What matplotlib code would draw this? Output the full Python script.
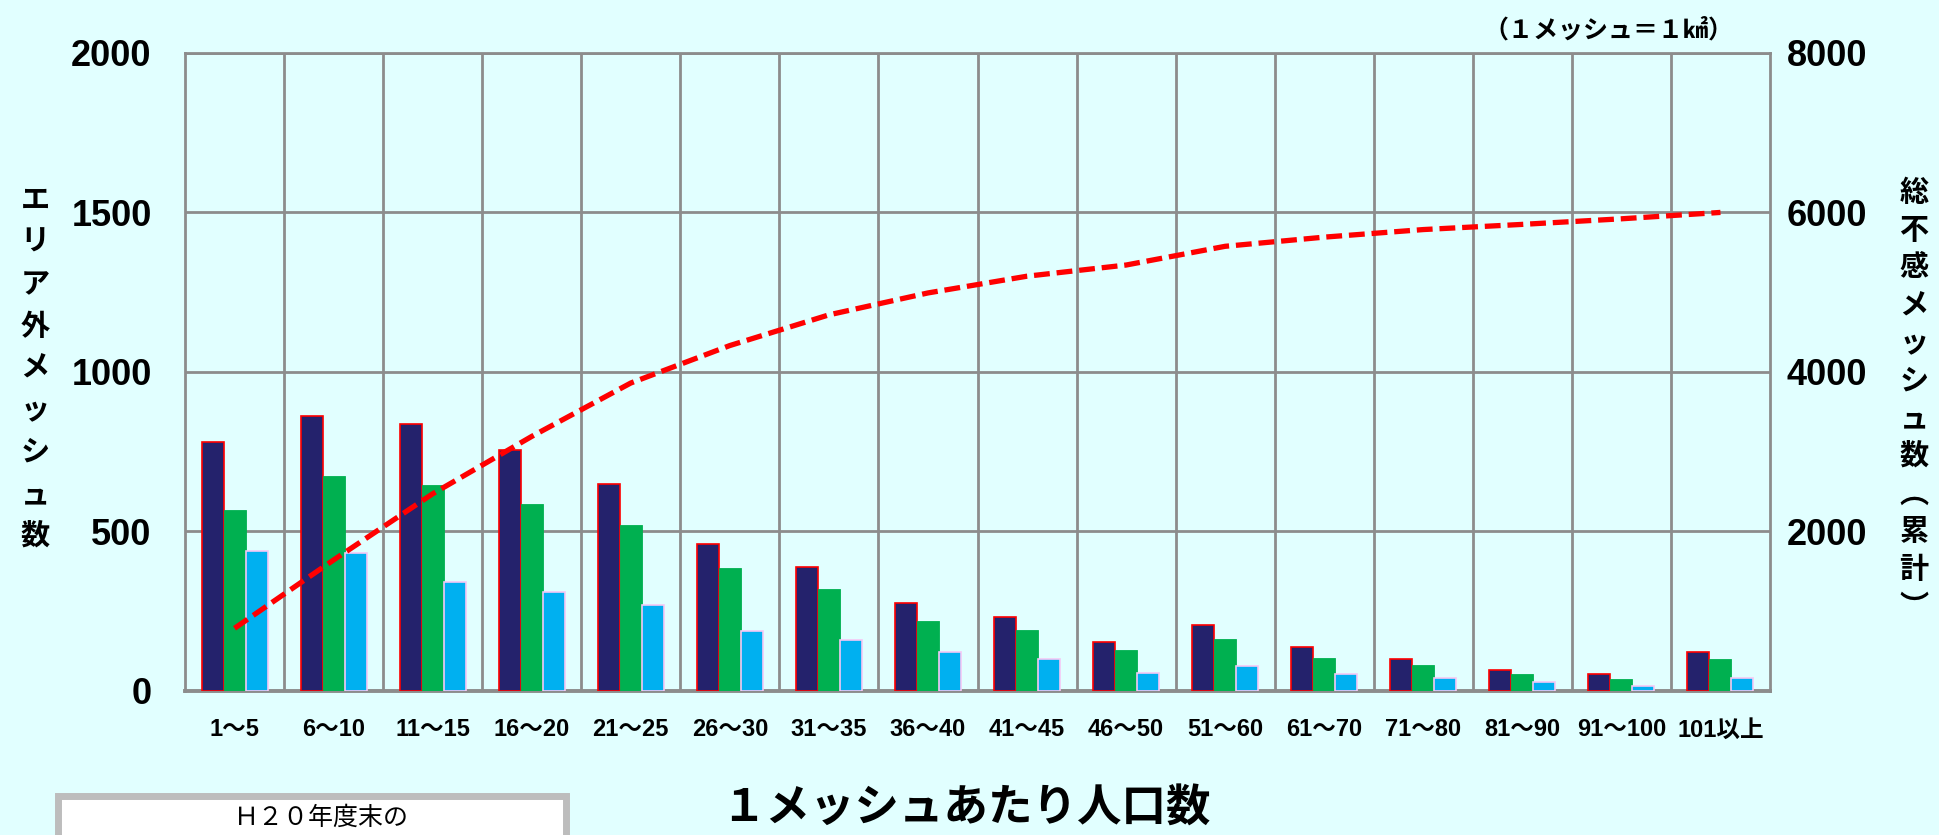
import numpy as np
import matplotlib.pyplot as plt
from matplotlib.patches import Rectangle

plt.rcParams['font.family'] = ['Liberation Sans', 'Noto Sans CJK JP']

# population per mesh (x axis)
categories = ['1～5', '6～10', '11～15', '16～20', '21～25', '26～30', '31～35', '36～40',
              '41～45', '46～50', '51～60', '61～70', '71～80', '81～90', '91～100', '101以上']

# meshes outside the service area (left axis)
series_a = [781, 862, 837, 756, 647, 459, 387, 274, 230, 153, 207, 138, 100, 65, 52, 122]
series_b = [568, 672, 644, 584, 520, 384, 320, 219, 189, 127, 161, 102, 82, 53, 38, 98]
series_c = [437, 433, 340, 311, 270, 188, 160, 120, 99, 56, 77, 51, 40, 28, 16, 41]

# total dead-zone meshes, cumulative (right axis)
cumulative = [783, 1640, 2470, 3190, 3860, 4330, 4715, 4990, 5200, 5340,
              5575, 5690, 5785, 5850, 5920, 6000]

left_ticks = [0, 500, 1000, 1500, 2000]
right_ticks = [2000, 4000, 6000, 8000]

W, H = 1939, 835
bg = '#E1FFFF'
grid_col = '#8C8C8C'

fig = plt.figure(figsize=(W / 100, H / 100), dpi=100, facecolor=bg)
ax = fig.add_axes([185 / W, 1 - 690.7 / H, (1770 - 185) / W, (690.7 - 53) / H])
ax.set_facecolor(bg)
ax.set_axisbelow(True)

x = np.arange(len(categories))
w = 0.222
ax.bar(x - w, series_a, w, color='#24226C', edgecolor='#FF0000', linewidth=1.2, zorder=3)
ax.bar(x, series_b, w, color='#00B050', edgecolor='#00B050', linewidth=0.6, zorder=3)
ax.bar(x + w, series_c, w, color='#00B0F0', edgecolor='#F5C8F5', linewidth=1.2, zorder=3)

ax.set_xlim(-0.5, len(categories) - 0.5)
ax.set_ylim(0, 2000)
ax.set_yticks(left_ticks)
ax.set_xticks(x)
ax.set_xticklabels(categories, fontsize=17, fontweight='bold')
ax.set_xticks(x[:-1] + 0.5, minor=True)
ax.grid(axis='y', which='major', color=grid_col, lw=2)
ax.grid(axis='x', which='minor', color=grid_col, lw=2)
ax.tick_params(which='both', length=0)
ax.tick_params(axis='x', pad=20)
ax.tick_params(axis='y', labelsize=26, pad=24)
plt.setp(ax.get_yticklabels(), fontweight='bold')
for s in ax.spines.values():
    s.set_color(grid_col)
    s.set_linewidth(2)
ax.spines['bottom'].set_linewidth(2.8)

ax2 = ax.twinx()
ax2.plot(x, cumulative, color='#FF0000', lw=3.8, dashes=(3, 1.3), zorder=4)
ax2.set_ylim(0, 8000)
ax2.set_yticks(right_ticks)
ax2.tick_params(length=0, labelsize=26, pad=12)
plt.setp(ax2.get_yticklabels(), fontweight='bold')
for s in ax2.spines.values():
    s.set_visible(False)

# vertical axis titles, one character per row
for i, ch in enumerate('エリア外メッシュ数'):
    fig.text(35 / W, 1 - (200 + 42 * i) / H, ch, ha='center', va='center',
             fontsize=21, fontweight='bold', family='Noto Sans CJK JP')
for i, ch in enumerate('総不感メッシュ数︵累計︶'):
    fig.text(1914 / W, 1 - (192 + 37.7 * i) / H, ch, ha='center', va='center',
             fontsize=21, fontweight='bold', family='Noto Sans CJK JP')

fig.text(1608 / W, 1 - 30 / H, '（１メッシュ＝１㎢）', ha='center', va='center',
         fontsize=18, fontweight='bold', family='Noto Sans CJK JP')
fig.text(966 / W, 1 - 809 / H, '１メッシュあたり人口数', ha='center', va='center',
         fontsize=32, fontweight='bold', family='Noto Sans CJK JP')

# note box at bottom left (runs off the figure edge)
fig.patches.append(Rectangle((57.5 / W, -0.2), (565.5 - 57.5) / W, 0.2 + 1 - 795.5 / H,
                             transform=fig.transFigure, facecolor='white',
                             edgecolor='#BDBDBD', linewidth=5))
fig.text(321 / W, 1 - 818 / H, 'Ｈ２０年度末の', ha='center', va='center',
         fontsize=18, family='Noto Sans CJK JP')

fig.savefig('out.png', dpi=100, facecolor=bg)
